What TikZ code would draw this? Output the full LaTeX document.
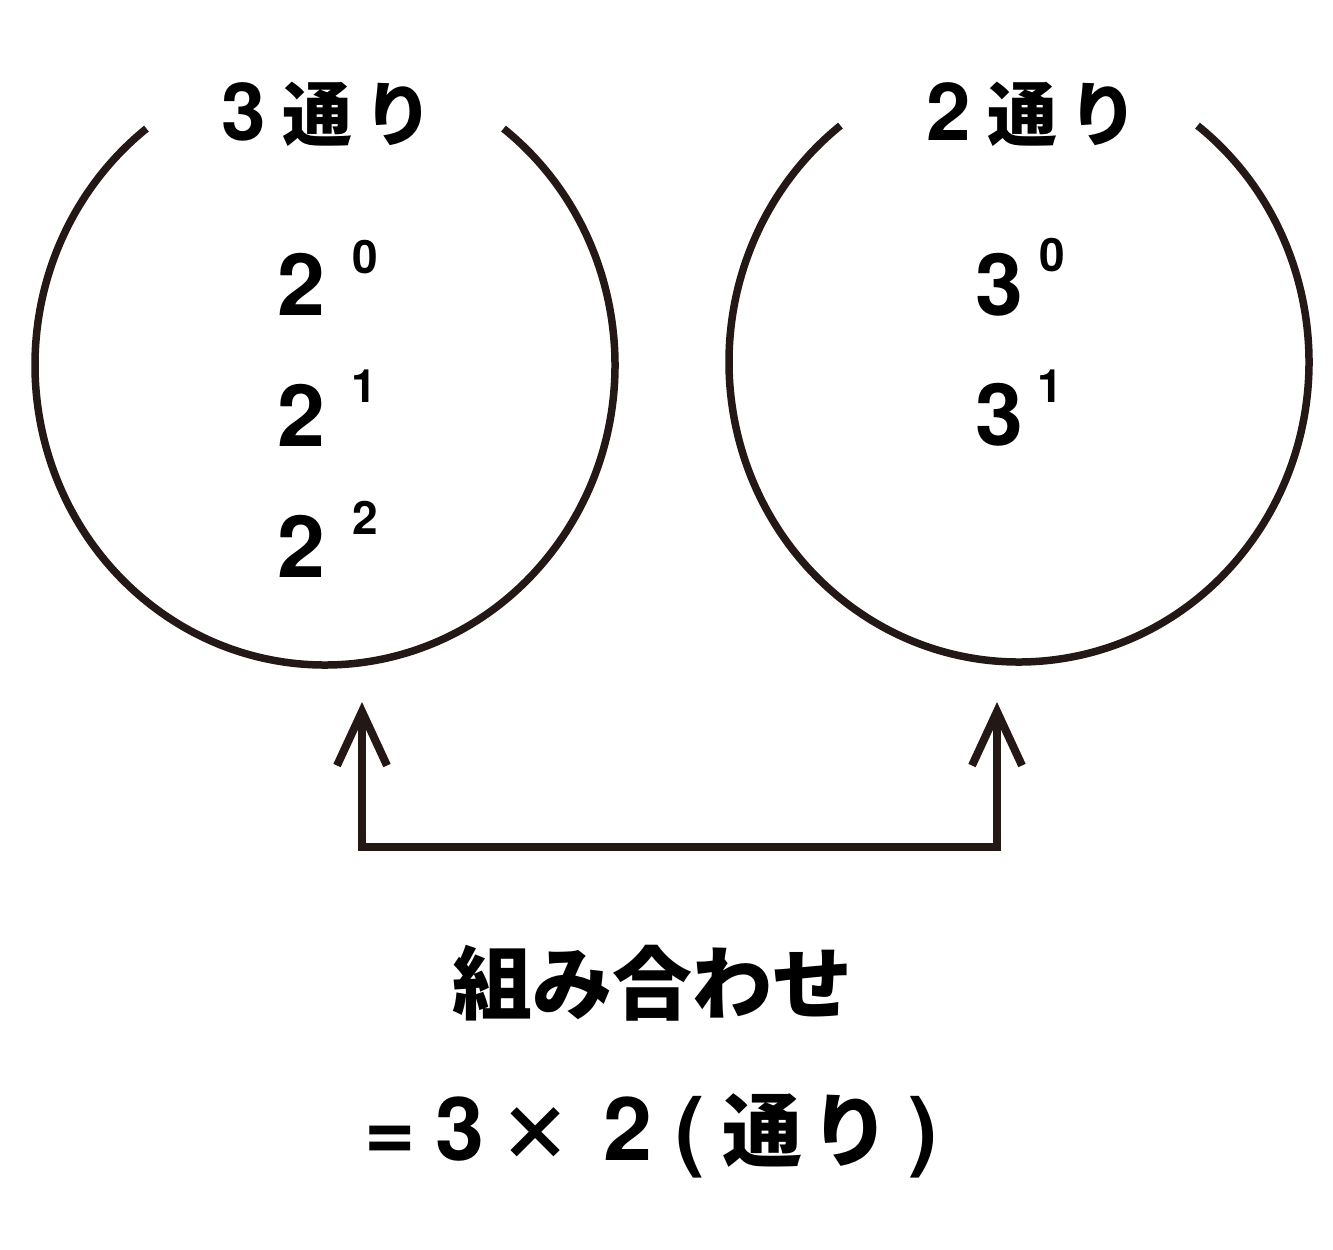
\documentclass[tikz,border=0pt]{standalone}
\usepackage{fontspec}
\usetikzlibrary{arrows.meta}
\newfontfamily\cjk{Noto Sans CJK JP}
\newfontfamily\helv{TeX Gyre Heros}
\definecolor{ink}{HTML}{231815}
\newcommand{\cellbox}[2]{\makebox[#1pt][c]{#2}}
\begin{document}
\begin{tikzpicture}[x=1pt,y=-1pt,
  ring/.style={draw=ink,line width=7.5pt},
  link/.style={draw=ink,line width=8pt,line join=miter,
    {Straight Barb[length=54pt,width=50pt]}-{Straight Barb[length=54pt,width=50pt]}},
  headtext/.style={font=\cjk\bfseries\fontsize{70}{84}\selectfont,inner sep=0pt,anchor=base west},
  bignum/.style={font=\helv\bfseries\fontsize{86}{100}\selectfont,inner sep=0pt},
  supnum/.style={font=\helv\bfseries\fontsize{46}{54}\selectfont,inner sep=0pt},
  bottomtext/.style={font=\cjk\bfseries\fontsize{80}{96}\selectfont,inner sep=0pt}]
\useasboundingbox[fill=white] (0,0) rectangle (1333,1250);
% circles
\coordinate (cL) at (325,365);
\coordinate (cR) at (1019,362);
\draw[ring] (cL) ++(-52:290 and 300) arc[start angle=-52,end angle=232,x radius=290,y radius=300];
\draw[ring] (cR) ++(-52:290 and 300) arc[start angle=-52,end angle=232,x radius=290,y radius=300];
% titles
\node[headtext] (tL) at (208,140) {\cellbox{71}{\helv\fontsize{80}{96}\selectfont 3}\cellbox{77}{通}\cellbox{85}{り}};
\node[headtext] (tR) at (913,140) {\cellbox{71}{\helv\fontsize{80}{96}\selectfont 2}\cellbox{77}{通}\cellbox{85}{り}};
% powers
\node[bignum] (a0) at (301.5,284) {2};
\node[supnum] (e0) at (365.5,257) {0};
\node[bignum] (a1) at (301.5,415) {2};
\node[supnum] (e1) at (364,386.5) {1};
\node[bignum] (a2) at (301.5,546.5) {2};
\node[supnum] (e2) at (365.5,518) {2};
\node[bignum] (b0) at (999.5,285) {3};
\node[supnum] (f0) at (1052,255) {0};
\node[bignum] (b1) at (999.5,415) {3};
\node[supnum] (f1) at (1050,386.5) {1};
% arrow
\coordinate (tipL) at (362,702);
\coordinate (cornL) at (362,847);
\coordinate (cornR) at (997,847);
\coordinate (tipR) at (997,702);
\draw[link] (tipL) -- (cornL) -- (cornR) -- (tipR);
% bottom text
\node[bottomtext] (comb) at (652,983) {組み合わせ};
\node[bottomtext,anchor=base west] (eq) at (350,1160) {{\helv\bfseries\fontsize{88}{100}\selectfont\cellbox{80}{=}\cellbox{60}{3}}\cellbox{90}{\fontsize{74}{86}\selectfont ×}{\helv\bfseries\fontsize{88}{100}\selectfont\cellbox{95}{2}\cellbox{30}{(}}\cellbox{115}{通}\cellbox{60}{り}{\helv\bfseries\fontsize{88}{100}\selectfont\cellbox{85}{)}}};
\end{tikzpicture}
\end{document}
